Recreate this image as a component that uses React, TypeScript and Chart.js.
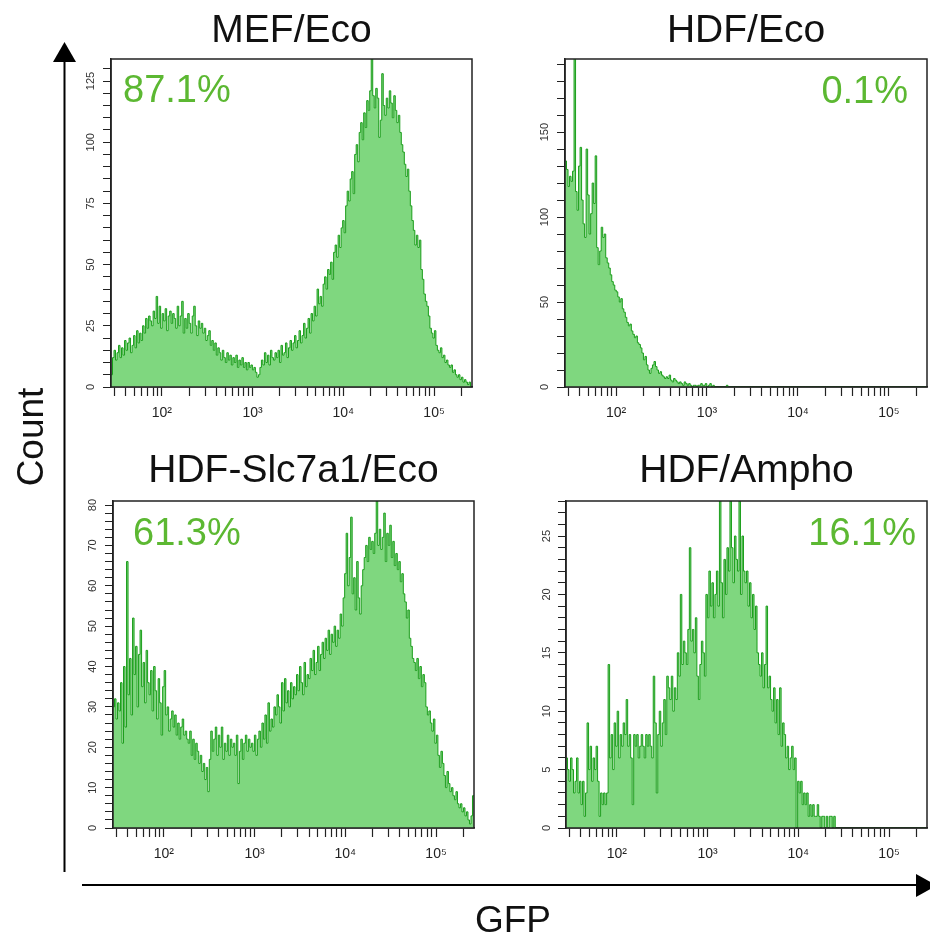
import React, { useEffect, useRef } from 'react';
import { Chart, registerables } from 'chart.js';

Chart.register(...registerables);

const FONT = '"Liberation Sans", Arial, Helvetica, sans-serif';
Chart.defaults.font.family = FONT;

// ---------- data ----------
const X_MIN = 27.5;
const X_MAX = 262144;
const X_TICKS = [
  30, 40, 50, 60, 70, 80, 90,
  100, 200, 300, 400, 500, 600, 700, 800, 900,
  1000, 2000, 3000, 4000, 5000, 6000, 7000, 8000, 9000,
  10000, 20000, 30000, 40000, 50000, 60000, 70000, 80000, 90000,
  100000, 200000,
];
const X_TICK_LABELS: Record<number, string> = { 100: '10²', 1000: '10³', 10000: '10⁴', 100000: '10⁵' };

const PANEL_TITLES = ['MEF/Eco', 'HDF/Eco', 'HDF-Slc7a1/Eco', 'HDF/Ampho'];
const PANEL_PERCENTS = ['87.1%', '0.1%', '61.3%', '16.1%'];

const MEF_ECO = [
  5, 12, 15, 11, 14, 17, 12, 16, 13, 19,
  15, 18, 20, 14, 17, 21, 16, 23, 18, 22,
  19, 25, 22, 28, 24, 29, 27, 25, 31, 28,
  37, 26, 33, 24, 30, 27, 32, 23, 29, 31,
  26, 30, 28, 24, 33, 25, 29, 35, 22, 28,
  24, 30, 26, 22, 29, 33, 25, 21, 27, 24,
  26, 22, 24, 19, 21, 23, 17, 19, 15, 18,
  13, 16, 14, 11, 15, 12, 10, 14, 11, 13,
  9, 12, 10, 13, 8, 11, 9, 12, 8, 10,
  7, 10, 8, 9, 7, 8, 6, 4, 5, 8,
  11, 9, 14, 10, 13, 9, 15, 12, 11, 14,
  12, 15, 10, 17, 13, 14, 18, 12, 16, 19,
  15, 18, 21, 16, 19, 23, 18, 21, 26, 20,
  24, 28, 22, 30, 27, 33, 29, 40, 34, 37,
  33, 42, 45, 40, 48, 46, 51, 44, 55, 58,
  53, 62, 57, 65, 68, 63, 74, 80, 76, 85,
  88, 79, 95, 99, 92, 104, 108, 101, 112, 106,
  117, 113, 121, 134, 119, 114, 122, 118, 102, 109,
  128, 115, 111, 118, 114, 121, 116, 110, 119, 113,
  108, 111, 104, 99, 96, 91, 86, 89, 80, 74,
  68, 64, 58, 62, 57, 60, 48, 44, 38, 35,
  33, 29, 24, 22, 20, 23, 17, 15, 14, 16,
  12, 13, 10, 11, 9, 8, 9, 6, 7, 5,
  4, 5, 3, 4, 2, 3, 2, 1, 2, 0,
];

const HDF_ECO = [
  133, 128, 118, 124, 121, 127, 200, 115, 104, 130,
  141, 110, 96, 88, 140, 113, 90, 102, 120, 108,
  136, 82, 72, 80, 94, 88, 90, 76, 73, 70,
  66, 62, 60, 57, 56, 53, 50, 52, 46, 44,
  41, 38, 36, 37, 33, 31, 29, 30, 26, 25,
  23, 20, 16, 18, 13, 10, 8, 11, 13, 15,
  12, 10, 8, 9, 7, 6, 5, 6, 5, 7,
  4, 3, 5, 4, 3, 2, 3, 2, 1, 3,
  2, 1, 2, 1, 0, 1, 1, 0, 1, 1,
  2, 1, 1, 2, 0, 1, 2, 0, 1, 0,
  0, 0, 0, 0, 0, 0, 0, 1, 0, 0,
  0, 0, 0, 0, 0, 0, 0, 0, 0, 0,
  0, 0, 0, 0, 0, 0, 0, 0, 0, 0,
  0, 0, 0, 0, 0, 0, 0, 0, 0, 0,
  0, 0, 0, 0, 0, 0, 0, 0, 0, 0,
  0, 0, 0, 0, 0, 0, 0, 0, 0, 0,
  0, 0, 0, 0, 0, 0, 0, 0, 0, 0,
  0, 0, 0, 0, 0, 0, 0, 0, 0, 0,
  0, 0, 0, 0, 0, 0, 0, 0, 0, 0,
  0, 0, 0, 0, 0, 0, 0, 0, 0, 0,
  0, 0, 0, 0, 0, 0, 0, 0, 0, 0,
  0, 0, 0, 0, 0, 0, 0, 0, 0, 0,
  0, 0, 0, 0, 0, 0, 0, 0, 0, 0,
  0, 0, 0, 0, 0, 0, 0, 0, 0, 0,
];

const HDF_SLC7A1_ECO = [
  30, 32, 27, 31, 29, 36, 21, 40, 25, 66,
  33, 42, 28, 52, 38, 45, 30, 43, 49, 35,
  41, 31, 44, 36, 33, 39, 29, 40, 34, 27,
  37, 31, 23, 35, 39, 28, 30, 24, 27, 29,
  25, 28, 23, 26, 22, 25, 27, 23, 24, 22,
  21, 24, 18, 22, 17, 21, 19, 16, 18, 14,
  16, 12, 15, 9, 17, 24, 19, 22, 25, 18,
  23, 20, 25, 17, 21, 19, 23, 18, 22, 20,
  21, 18, 23, 11, 19, 22, 17, 21, 23, 19,
  22, 20, 21, 19, 23, 18, 22, 24, 20, 26,
  22, 28, 21, 31, 24, 27, 25, 30, 28, 33,
  30, 26, 36, 29, 37, 31, 34, 30, 36, 32,
  35, 33, 38, 34, 40, 36, 33, 41, 35, 38,
  37, 42, 39, 44, 38, 41, 45, 39, 43, 46,
  42, 47, 44, 49, 43, 48, 46, 50, 45, 49,
  47, 53, 50, 57, 63, 73, 60, 67, 77, 58,
  62, 54, 66, 57, 53, 60, 64, 67, 70, 66,
  72, 69, 71, 68, 73, 81, 70, 74, 69, 72,
  78, 66, 73, 70, 75, 67, 71, 65, 68, 64,
  66, 61, 63, 58, 56, 52, 54, 47, 45, 42,
  41, 39, 42, 37, 40, 35, 38, 36, 30, 28,
  29, 26, 24, 27, 21, 23, 18, 15, 19, 16,
  13, 10, 14, 11, 9, 10, 8, 7, 9, 6,
  5, 6, 4, 5, 3, 4, 2, 1, 3, 8,
];

const HDF_AMPHO = [
  6, 5, 4, 6, 5, 3, 4, 6, 3, 4,
  2, 4, 1, 3, 9, 5, 7, 4, 6, 5,
  7, 4, 1, 3, 2, 3, 2, 3, 14, 6,
  8, 5, 9, 7, 10, 6, 8, 7, 9, 8,
  11, 7, 8, 6, 2, 8, 7, 8, 6, 7,
  8, 7, 6, 8, 7, 8, 7, 6, 13, 9,
  3, 8, 10, 7, 9, 11, 8, 13, 12, 11,
  13, 10, 12, 11, 15, 13, 20, 14, 16, 15,
  14, 17, 24, 16, 17, 15, 18, 13, 11, 14,
  16, 15, 13, 20, 18, 22, 19, 21, 18, 20,
  22, 19, 28, 21, 18, 23, 20, 24, 22, 28,
  24, 21, 25, 23, 22, 28, 20, 25, 22, 21,
  22, 19, 21, 18, 20, 17, 19, 15, 14, 13,
  15, 12, 14, 19, 12, 13, 11, 10, 12, 9,
  11, 8, 12, 7, 9, 8, 6, 7, 5, 6,
  7, 5, 6, 0, 4, 3, 4, 2, 3, 2,
  3, 1, 2, 1, 2, 1, 1, 2, 1, 0,
  1, 1, 0, 1, 0, 1, 1, 0, 1, 0,
  0, 0, 0, 0, 0, 0, 0, 0, 0, 0,
  0, 0, 0, 0, 0, 0, 0, 0, 0, 0,
  0, 0, 0, 0, 0, 0, 0, 0, 0, 0,
  0, 0, 0, 0, 0, 0, 0, 0, 0, 0,
  0, 0, 0, 0, 0, 0, 0, 0, 0, 0,
  0, 0, 0, 0, 0, 0, 0, 0, 0, 0,
];

const SERIES = [MEF_ECO, HDF_ECO, HDF_SLC7A1_ECO, HDF_AMPHO];
const Y_MAX = [134, 193, 81, 28];
const Y_MINOR_STEP = [5, 10, 2, 1];
const Y_MAJOR_STEP = [25, 50, 10, 5];

// ---------- styles / layout ----------
const FILL = '#7fd77f';
const LINE = '#1c9e1c';
const PCT_COLOR = '#5cb832';
const AXIS = '#222';

const Y_AXIS_W = 40;
const X_AXIS_H = 40;
const PAD_R = 8;
const TITLE_SIZE = 39;

const LAYOUT = [
  { l: 111, r: 472, t: 59, b: 387, top: 8, yPad: 2.8, pctAlign: 'left', pctDx: 12, pctDy: 43 },
  { l: 565, r: 927, t: 59, b: 387, top: 8, yPad: 2.8, pctAlign: 'right', pctDx: 19, pctDy: 44 },
  { l: 113, r: 474, t: 501, b: 828, top: 448, yPad: 5.9, pctAlign: 'left', pctDx: 20, pctDy: 44 },
  { l: 566, r: 927, t: 501, b: 828, top: 448, yPad: 4.5, pctAlign: 'right', pctDx: 11, pctDy: 44 },
];

function binPoints(values: number[]) {
  const lo = Math.log10(X_MIN);
  const hi = Math.log10(X_MAX);
  const n = values.length;
  const pts = values.map((v, i) => ({ x: Math.pow(10, lo + (i * (hi - lo)) / n), y: v }));
  pts.push({ x: X_MAX, y: values[n - 1] });
  return pts;
}

const framePlugin = {
  id: 'frame',
  afterDraw(chart: any, _args: any, opts: any) {
    const { ctx, chartArea: a } = chart;
    ctx.save();
    ctx.strokeStyle = AXIS;
    ctx.lineWidth = 1.5;
    ctx.strokeRect(a.left, a.top, a.right - a.left, a.bottom - a.top);
    ctx.font = `38px ${FONT}`;
    ctx.fillStyle = PCT_COLOR;
    ctx.textBaseline = 'alphabetic';
    ctx.textAlign = opts.align;
    const x = opts.align === 'left' ? a.left + opts.dx : a.right - opts.dx;
    ctx.fillText(opts.text, x, a.top + opts.dy);
    ctx.restore();
  },
};

function Panel({ idx }: { idx: number }) {
  const ref = useRef<HTMLCanvasElement>(null);
  const L = LAYOUT[idx];
  const left = L.l - Y_AXIS_W;
  const width = L.r - L.l + Y_AXIS_W + PAD_R;
  const titleH = L.t - L.top;
  const height = titleH + (L.b - L.t) + X_AXIS_H;

  useEffect(() => {
    if (!ref.current) return;
    const yTicks: number[] = [];
    for (let v = 0; v <= Y_MAX[idx] + 1e-9; v += Y_MINOR_STEP[idx]) yTicks.push(v);
    const chart = new Chart(ref.current, {
      type: 'line',
      data: {
        datasets: [
          {
            data: binPoints(SERIES[idx]),
            stepped: true,
            fill: 'origin',
            borderColor: LINE,
            backgroundColor: FILL,
            borderWidth: 1,
            pointRadius: 0,
            pointHoverRadius: 0,
          } as any,
        ],
      },
      options: {
        animation: false,
        responsive: false,
        maintainAspectRatio: false,
        events: [],
        layout: { padding: { left: 0, right: PAD_R, top: 0, bottom: 0 } },
        plugins: {
          legend: { display: false },
          tooltip: { enabled: false },
          title: {
            display: true,
            text: PANEL_TITLES[idx],
            fullSize: false,
            color: '#111',
            font: { size: TITLE_SIZE, weight: 'normal', family: FONT },
            padding: { top: 0, bottom: titleH - TITLE_SIZE * 1.2 },
          },
          frame: { text: PANEL_PERCENTS[idx], align: L.pctAlign, dx: L.pctDx, dy: L.pctDy },
        } as any,
        scales: {
          x: {
            type: 'logarithmic',
            min: X_MIN,
            max: X_MAX,
            afterBuildTicks: (s: any) => {
              s.ticks = X_TICKS.map((v) => ({ value: v }));
            },
            afterFit: (s: any) => {
              s.height = X_AXIS_H;
            },
            ticks: {
              autoSkip: false,
              maxRotation: 0,
              minRotation: 0,
              padding: 9,
              color: '#222',
              font: { size: 14 },
              callback: (v: any) => X_TICK_LABELS[Number(v)] || '',
            },
            grid: { display: true, drawOnChartArea: false, drawTicks: true, tickLength: 9, color: AXIS, tickWidth: 1.2 },
            border: { display: true, color: AXIS, width: 1.5 },
          },
          y: {
            type: 'linear',
            min: 0,
            max: Y_MAX[idx],
            afterBuildTicks: (s: any) => {
              s.ticks = yTicks.map((v) => ({ value: v }));
            },
            afterFit: (s: any) => {
              s.width = Y_AXIS_W;
            },
            ticks: {
              autoSkip: false,
              minRotation: 90,
              maxRotation: 90,
              crossAlign: 'center',
              padding: L.yPad,
              color: '#333',
              font: { size: 11 },
              callback: (v: any) => (Number(v) % Y_MAJOR_STEP[idx] === 0 ? String(v) : ''),
            },
            grid: { display: true, drawOnChartArea: false, drawTicks: true, tickLength: 8, color: AXIS, tickWidth: 1 },
            border: { display: true, color: AXIS, width: 1.5 },
          },
        },
      },
      plugins: [framePlugin],
    } as any);
    return () => chart.destroy();
  }, [idx]);

  return (
    <canvas
      ref={ref}
      width={width}
      height={height}
      style={{ position: 'absolute', left, top: L.top, width, height }}
    />
  );
}

export default function App() {
  return (
    <div
      style={{
        position: 'absolute',
        left: 0,
        top: 0,
        width: 930,
        height: 938,
        overflow: 'hidden',
        background: '#fff',
      }}
    >
      {[0, 1, 2, 3].map((i) => (
        <Panel key={i} idx={i} />
      ))}
      <svg
        width={930}
        height={938}
        style={{ position: 'absolute', left: 0, top: 0, pointerEvents: 'none' }}
      >
        <line x1={64.5} y1={60} x2={64.5} y2={872} stroke="#000" strokeWidth={2} />
        <polygon points="53,62 76,62 64.5,42" fill="#000" />
        <line x1={82} y1={885} x2={918} y2={885} stroke="#000" strokeWidth={2} />
        <polygon points="916,874 916,897 937,885.5" fill="#000" />
        <text
          transform="translate(43,437) rotate(-90)"
          textAnchor="middle"
          fontSize={37}
          fontFamily={FONT}
          fill="#111"
        >
          Count
        </text>
        <text x={513} y={932} textAnchor="middle" fontSize={37} fontFamily={FONT} fill="#111">
          GFP
        </text>
      </svg>
    </div>
  );
}
